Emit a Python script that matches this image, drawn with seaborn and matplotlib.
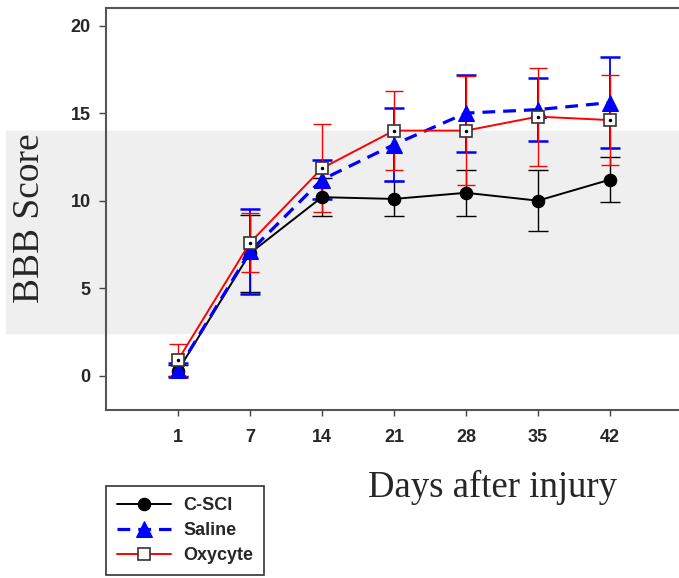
import numpy as np
import pandas as pd
import seaborn as sns
import matplotlib
matplotlib.use('Agg')
import matplotlib.pyplot as plt
from matplotlib.patches import Rectangle

sns.set_style("white")
plt.rcParams['font.family'] = ['Liberation Sans', 'DejaVu Sans']

# === data ===
days = ["1", "7", "14", "21", "28", "35", "42"]
csci = [0.3, 7.0, 10.2, 10.1, 10.45, 10.0, 11.2]
csci_err = [0.3, 2.2, 1.1, 1.0, 1.3, 1.75, 1.3]
saline = [0.35, 7.1, 11.2, 13.2, 15.0, 15.2, 15.6]
saline_err = [0.4, 2.4, 1.1, 2.1, 2.2, 1.8, 2.6]
oxycyte = [0.9, 7.6, 11.85, 14.0, 14.0, 14.8, 14.6]
oxycyte_err = [0.9, 1.7, 2.5, 2.25, 3.1, 2.8, 2.55]

pos = np.arange(len(days))
df = pd.DataFrame({"pos": pos, "C-SCI": csci, "Saline": saline, "Oxycyte": oxycyte})

fig = plt.figure(figsize=(6.79, 5.78), dpi=100)
# light grey band behind the plot (as in the scanned figure)
fig.patches.append(Rectangle((6 / 679, 1 - 333 / 578), 1 - 6 / 679, (333 - 131) / 578,
                             transform=fig.transFigure, color="#efefef", zorder=-5))
ax = fig.add_axes([106 / 679, 1 - 410 / 578, 1 - 106 / 679, (410 - 8) / 578])
ax.patch.set_alpha(0)

# error bars
ax.errorbar(pos, csci, yerr=csci_err, fmt="none", ecolor="black", elinewidth=1, capsize=7, capthick=1, zorder=2)
ax.errorbar(pos, saline, yerr=saline_err, fmt="none", ecolor="blue", elinewidth=1.3, capsize=7.5, capthick=1.8, zorder=3)
ax.errorbar(pos, oxycyte, yerr=oxycyte_err, fmt="none", ecolor="red", elinewidth=1, capsize=6.5, capthick=1, zorder=4)

# lines
sns.lineplot(data=df, x="pos", y="C-SCI", ax=ax, color="black", lw=1.4, marker="o", markersize=9,
             markerfacecolor="black", markeredgecolor="black", label="C-SCI", zorder=5)
sns.lineplot(data=df, x="pos", y="Saline", ax=ax, color="blue", lw=2.3, linestyle=(0, (4, 2.5)), marker="^",
             markersize=12, markerfacecolor="blue", markeredgecolor="blue", label="Saline", zorder=6)
sns.lineplot(data=df, x="pos", y="Oxycyte", ax=ax, color="red", lw=1.4, marker="s", markersize=8,
             markerfacecolor="white", markeredgecolor="#333333", markeredgewidth=1.2, label="Oxycyte", zorder=7)
ax.plot(pos, oxycyte, linestyle="none", marker=".", markersize=3, color="black", zorder=8)

ax.set_xlim(-1, 6.96)
ax.set_ylim(-1.95, 21)
ax.set_xticks(pos)
ax.set_xticklabels(days)
ax.set_yticks([0, 5, 10, 15, 20])
ax.set_xlabel("")
ax.set_ylabel("")
for lab in ax.get_xticklabels() + ax.get_yticklabels():
    lab.set_fontweight("bold")
    lab.set_fontsize(13)
ax.tick_params(axis="y", direction="out", length=5, width=1, color="#444444", pad=6, left=True)
ax.tick_params(axis="x", direction="out", length=4, width=1, color="#444444", pad=10, bottom=True)
for side in ["left", "bottom", "top"]:
    ax.spines[side].set_color("#555555")
    ax.spines[side].set_linewidth(1.5)
ax.spines["right"].set_visible(False)

ax.get_legend().remove()
h, l = ax.get_legend_handles_labels()
leg = fig.legend(h, l, loc="lower left", bbox_to_anchor=(106 / 679, 3 / 578), frameon=True,
                 fancybox=False, edgecolor="black", prop={"weight": "bold", "size": 13},
                 handlelength=3.0, borderpad=0.6, labelspacing=0.45, handletextpad=0.7,
                 borderaxespad=0)
leg.get_frame().set_linewidth(1.2)

fig.text(30 / 679, 1 - 218 / 578, "BBB Score", rotation=90, ha="center", va="center",
         family="Liberation Serif", fontsize=27)
fig.text(492 / 679, 1 - 487 / 578, "Days after injury", ha="center", va="center",
         family="Liberation Serif", fontsize=26.5)

fig.savefig("out.png", dpi=100)
